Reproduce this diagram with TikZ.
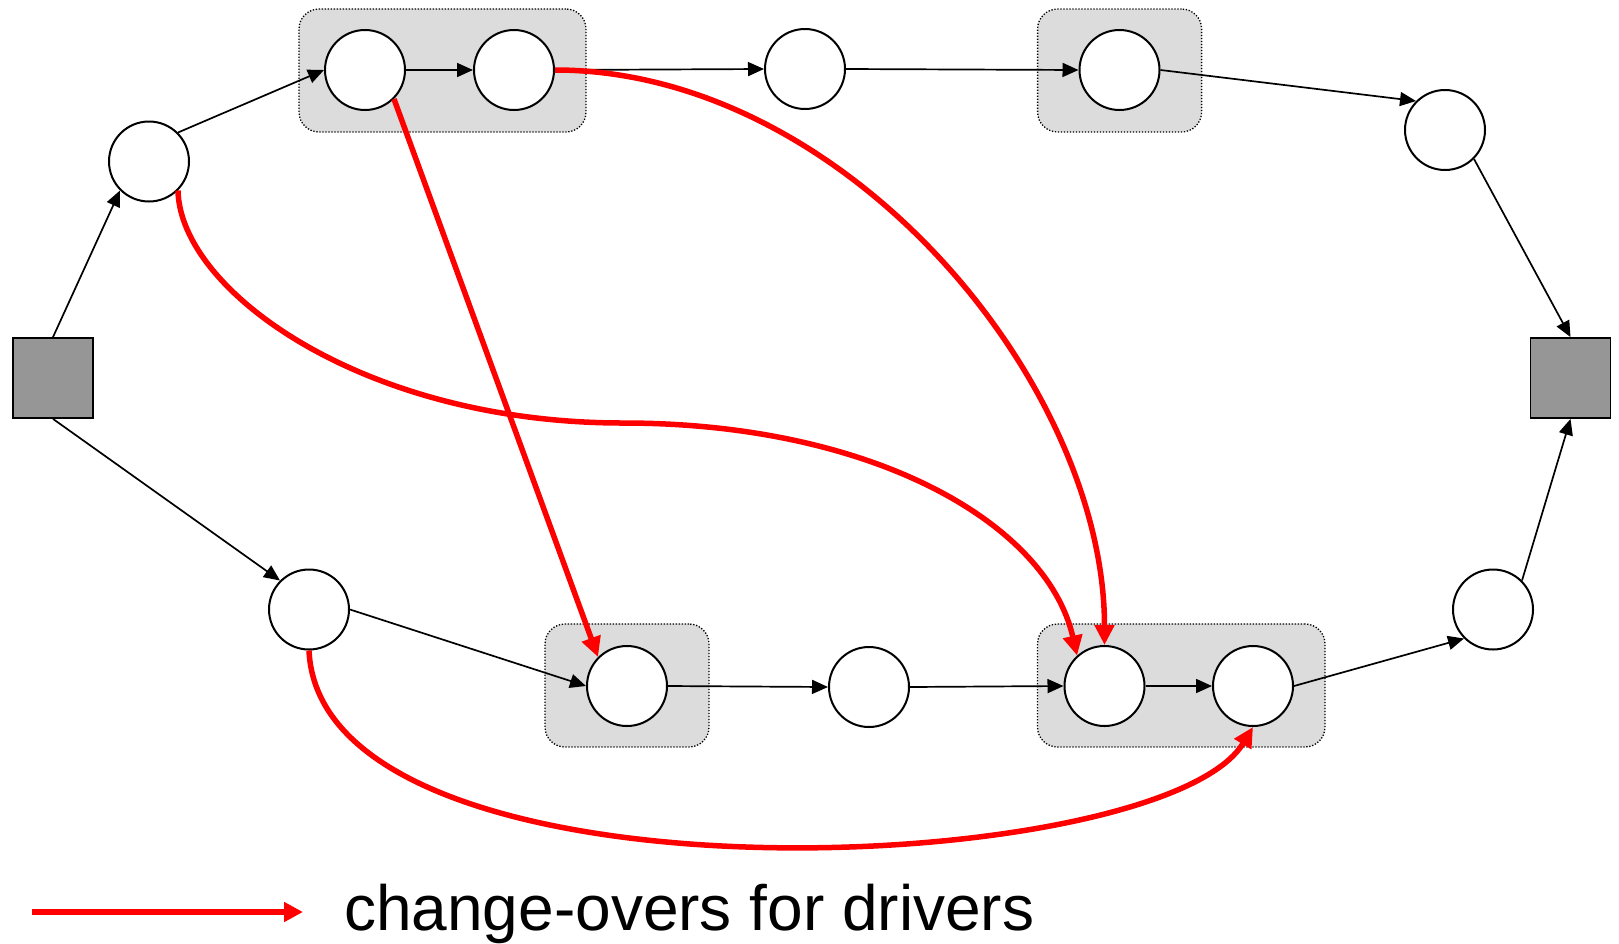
\documentclass[tikz,border=0pt]{standalone}
\usepackage{fontspec}
\setmainfont{Liberation Sans}
\usetikzlibrary{arrows.meta}
\definecolor{boxgray}{RGB}{220,220,220}
\definecolor{sqgray}{RGB}{150,150,150}
\definecolor{chred}{RGB}{255,0,0}
\begin{document}
\begin{tikzpicture}[x=1pt,y=-1pt,
  st/.style={circle,draw,line width=2pt,minimum size=80pt,inner sep=0pt,fill=white},
  term/.style={rectangle,draw,line width=1.8pt,minimum size=80pt,inner sep=0pt,fill=sqgray},
  grp/.style={rectangle,rounded corners=20pt,fill=boxgray,draw,line width=1.3pt,dash pattern=on 1.3pt off 1.7pt,inner sep=0pt,minimum height=123pt},
  flow/.style={line width=1.7pt,-{Triangle[length=16pt,width=14pt]}},
  chg/.style={draw=chred,line width=5.5pt,-{Triangle[length=20pt,width=19pt]}},
  legline/.style={draw=chred,line width=6pt,-{Triangle[length=19pt,width=19pt]}},
]
\useasboundingbox (0,0) rectangle (1619,943);

% group boxes
\node[grp,minimum width=287pt] (g1) at (442.5,70.5) {};
\node[grp,minimum width=164pt] (g2) at (1119.6,70.5) {};
\node[grp,minimum width=164pt] (g3) at (627,685.5) {};
\node[grp,minimum width=287.5pt] (g4) at (1181.25,685.5) {};

% terminals
\node[term] (S1) at (53,378) {};
\node[term] (S2) at (1570.5,378) {};

% stations
\node[st] (A) at (149,161.5) {};
\node[st] (B) at (365,70) {};
\node[st] (C) at (514,70) {};
\node[st] (D) at (805,69) {};
\node[st] (E) at (1119.5,70) {};
\node[st] (F) at (1445,130) {};
\node[st] (G) at (309,609.5) {};
\node[st] (H) at (627,686) {};
\node[st] (I) at (869,687) {};
\node[st] (J) at (1104.5,686) {};
\node[st] (K) at (1253,686) {};
\node[st] (L) at (1493,609.5) {};

% black flow arrows
\draw[flow] (S1.north) -- (A.225);
\draw[flow] (A.45) -- (B.west);
\draw[flow] (B.east) -- (C.west);
\draw[flow] (C.east) -- (D.west);
\draw[flow] (D.east) -- (E.west);
\draw[flow] (E.east) -- (F.135);
\draw[flow] (F.-45) -- (S2.north);
\draw[flow] (S1.south) -- (G.135);
\draw[flow] (G.east) -- (H.west);
\draw[flow] (H.east) -- (I.west);
\draw[flow] (I.east) -- (J.west);
\draw[flow] (J.east) -- (K.west);
\draw[flow] (K.east) -- (L.225);
\draw[flow] (L.45) -- (S2.south);

% red change-overs
\coordinate (m1) at (623,423);
\draw[chg] (A.-45) .. controls +(2,100) and +(-260,0) .. (m1)
  .. controls +(250,0) and +(-30,-132) .. (J.132);
\draw[chg] (B.-45) -- (H.135);
\draw[chg] (C.east) .. controls +(290,0) and +(0,-262) .. (J.north);
\draw[chg] (G.south) .. controls +(12,265) and +(-92,152) .. (K.south);

% legend
\coordinate (l0) at (32,912);
\coordinate (l1) at (303,912);
\draw[legline] (l0) -- (l1);
\node[anchor=base west,inner sep=0pt,font=\fontsize{64}{70}\selectfont] (lt) at (344,930) {change-overs for drivers};
\end{tikzpicture}
\end{document}
